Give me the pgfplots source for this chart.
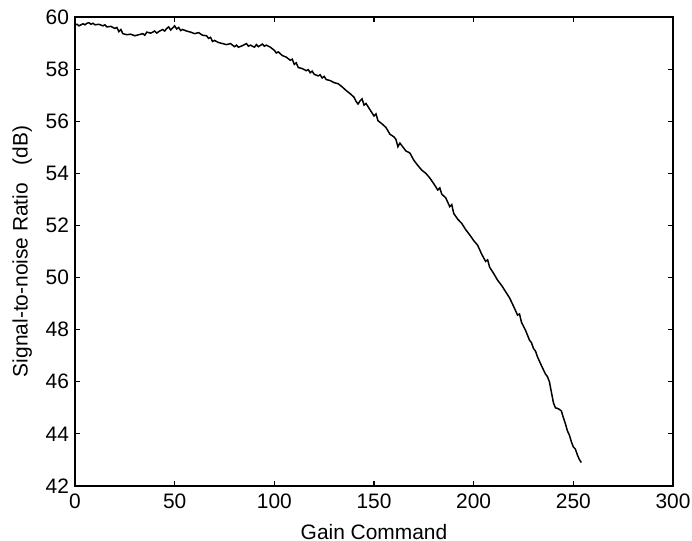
\documentclass[border=0pt]{standalone}
\usepackage{fontspec}
\setmainfont{Liberation Sans}
\usepackage{pgfplots}
\pgfplotsset{compat=1.18}
\pgfplotstableread{
x y
0 59.70
1 59.72
2 59.66
3 59.70
4 59.74
5 59.70
6 59.76
7 59.78
8 59.72
9 59.76
10 59.70
12 59.72
14 59.66
15 59.70
16 59.62
18 59.64
20 59.56
21 59.60
22 59.44
23 59.52
24 59.36
26 59.32
28 59.34
30 59.28
32 59.32
34 59.36
35 59.30
36 59.42
38 59.38
40 59.46
41 59.38
42 59.44
44 59.52
45 59.46
46 59.56
47 59.62
48 59.50
49 59.58
50 59.66
51 59.54
52 59.60
53 59.48
54 59.52
56 59.46
58 59.42
60 59.36
62 59.40
64 59.30
66 59.28
67 59.18
68 59.22
69 59.06
70 59.10
72 59.02
74 58.98
76 58.94
78 58.98
80 58.86
81 58.92
82 58.84
84 58.90
86 58.98
87 58.88
88 58.92
90 58.84
91 58.94
92 58.86
94 58.96
95 58.88
96 58.92
98 58.84
100 58.72
101 58.62
102 58.66
104 58.52
106 58.46
108 58.34
109 58.38
110 58.18
111 58.24
112 58.06
114 58.02
116 57.94
117 57.98
118 57.86
119 57.92
120 57.80
122 57.74
123 57.78
124 57.66
125 57.72
126 57.60
128 57.56
130 57.48
132 57.44
134 57.32
136 57.18
138 57.06
140 56.92
141 56.76
142 56.66
143 56.78
144 56.86
145 56.62
146 56.68
148 56.44
150 56.20
151 56.28
152 56.02
154 55.90
156 55.76
158 55.50
160 55.40
161 55.30
162 55.02
163 55.16
164 55.06
166 54.86
168 54.78
170 54.50
172 54.30
174 54.12
176 54.00
178 53.82
180 53.60
182 53.36
183 53.44
184 53.20
186 53.06
188 52.72
189 52.80
190 52.46
192 52.24
194 52.08
196 51.84
198 51.64
200 51.42
202 51.24
204 50.90
206 50.62
207 50.68
208 50.40
210 50.16
212 49.90
214 49.70
216 49.46
218 49.22
220 48.90
222 48.56
223 48.60
224 48.28
226 47.98
228 47.60
229 47.50
230 47.28
231 47.18
232 46.96
234 46.62
236 46.30
237 46.20
238 46.00
239 45.60
240 45.20
241 45.00
242 44.98
243 44.94
244 44.88
245 44.62
246 44.40
247 44.12
248 43.96
249 43.70
250 43.50
251 43.42
252 43.20
253 43.02
254 42.90
}\snr
\begin{document}
\begin{tikzpicture}
\begin{axis}[
  scale only axis,
  width=299bp, height=234.5bp,
  xmin=0, xmax=300, ymin=42, ymax=60,
  xtick={0,50,...,300}, ytick={42,44,...,60},
  tick align=inside,
  major tick length=2.5bp,
  axis line style={line width=0.7pt},
  every tick/.style={black, line width=0.6pt},
  /pgf/number format/assume math mode=true,
  ticklabel style={font=\fontsize{10.5}{12}\selectfont},
  label style={font=\fontsize{10.5}{12}\selectfont},
  xticklabel style={yshift=-0.5bp},
  yticklabel style={xshift=0.5bp},
  xlabel={Gain Command},
  ylabel={Signal-to-noise Ratio\ \ \ (dB)},
  xlabel style={yshift=-1bp},
  ylabel style={yshift=0bp},
]
\addplot[black, line width=0.75pt, no marks] table[x=x, y=y] {\snr};
\end{axis}
\pgfresetboundingbox
\path ([xshift=-37.5bp,yshift=-27.5bp]current axis.south west) rectangle ([xshift=9.5bp,yshift=8.5bp]current axis.north east);
\end{tikzpicture}
\end{document}
